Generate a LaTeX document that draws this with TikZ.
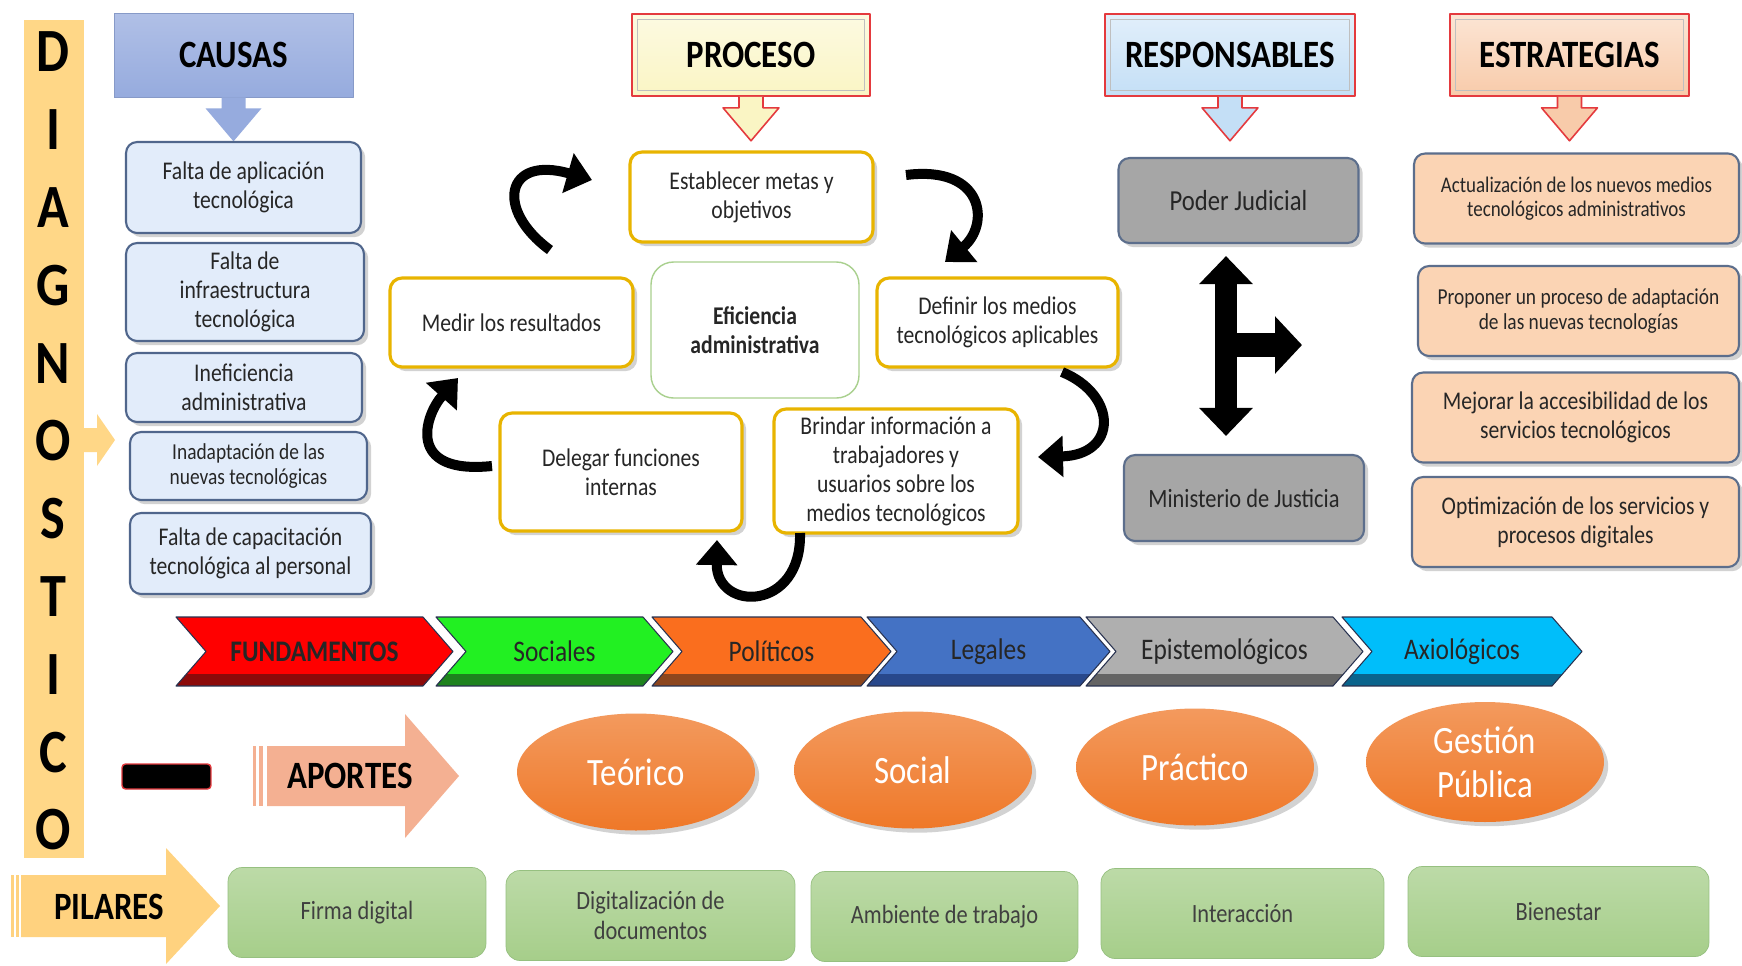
\documentclass[tikz,border=0pt]{standalone}
\usepackage{fontspec}
\setmainfont{Carlito}[FakeStretch=0.85]
\usepackage{xcolor}
\definecolor{diagyellow}{RGB}{255,215,135}
\definecolor{causeblue}{RGB}{150,171,222}
\definecolor{causefill}{RGB}{226,236,250}
\definecolor{causeline}{RGB}{80,102,140}
\definecolor{headred}{RGB}{228,58,62}
\definecolor{procyellow}{RGB}{250,245,196}
\definecolor{respblue}{RGB}{196,223,246}
\definecolor{estrpeach}{RGB}{248,203,170}
\definecolor{goldline}{RGB}{232,180,0}
\definecolor{effgreen}{RGB}{169,208,142}
\definecolor{judgrey}{RGB}{166,166,166}
\definecolor{slateline}{RGB}{92,110,140}
\definecolor{estrfill}{RGB}{251,212,180}
\definecolor{aportesal}{RGB}{244,176,146}
\definecolor{ellorange}{RGB}{239,120,40}
\definecolor{pilgreen}{RGB}{166,206,138}
\definecolor{pilline}{RGB}{150,192,128}
\definecolor{pilyellow}{RGB}{255,210,127}
\definecolor{chline}{RGB}{40,50,80}
\definecolor{chred}{RGB}{255,0,0}
\definecolor{chredd}{RGB}{140,10,10}
\definecolor{chgreen}{RGB}{34,240,34}
\definecolor{chgreend}{RGB}{30,130,30}
\definecolor{chorange}{RGB}{250,110,30}
\definecolor{choranged}{RGB}{140,70,30}
\definecolor{chblue}{RGB}{68,114,196}
\definecolor{chblued}{RGB}{40,72,140}
\definecolor{chgrey}{RGB}{175,175,175}
\definecolor{chgreyd}{RGB}{100,100,100}
\definecolor{chcyan}{RGB}{0,190,250}
\definecolor{chcyand}{RGB}{10,100,140}
\usepackage{tikz}
\usetikzlibrary{calc,arrows.meta,shapes.geometric,shadows}
\newcommand{\HeadArrow}[2][]{
\filldraw[#1] ($(#2.south)+(-12,0)$) -- ++(0,11) -- ++(-16,0) -- ($(#2.south)+(0,44)$)
-- ($(#2.south)+(28,11)$) -- ++(-16,0) -- ++(0,-11);}

\begin{document}
\begin{tikzpicture}[x=0.02cm,y=-0.02cm,line join=round,text=black!85]
	\tikzstyle{titulo}=[draw=headred,line width=0.9pt,minimum height=1.64cm,font=\fontsize{22}{24}\selectfont\bfseries,text=black];
	\tikzstyle{causa}=[draw=causeline,fill=causefill,line width=1.2pt,rounded corners=0.22cm,align=center,inner sep=2pt,font=\fontsize{14.5}{16.5}\selectfont,drop shadow={opacity=0.35}];
	\tikzstyle{paso}=[draw=goldline,fill=white,line width=1.8pt,rounded corners=0.24cm,align=center,inner sep=2pt,font=\fontsize{14.5}{16.5}\selectfont,drop shadow={opacity=0.35}];
	\tikzstyle{resp}=[draw=slateline,fill=judgrey,line width=1.2pt,rounded corners=0.22cm,minimum width=4.8cm,minimum height=1.7cm,drop shadow={opacity=0.35}];
	\tikzstyle{estr}=[draw=slateline,fill=estrfill,line width=1.2pt,rounded corners=0.22cm,align=center,inner sep=2pt,minimum height=1.8cm,drop shadow={opacity=0.35}];
	\tikzstyle{aporte}=[ellipse,top color=ellorange!75!white,bottom color=ellorange,text=white,inner sep=0pt,minimum width=4.76cm,minimum height=2.34cm,font=\fontsize{22}{25}\selectfont,align=center,drop shadow={opacity=0.35}];
	\tikzstyle{pilar}=[draw=pilline,top color=pilgreen!75!white,bottom color=pilgreen,rounded corners=0.28cm,align=center,text=black!75,font=\fontsize{15}{17}\selectfont,minimum height=1.8cm];
	\tikzstyle{ciclo}=[line width=0.2cm,-{Triangle[width=0.8cm,length=0.5cm]}];
	\tikzstyle{doble}=[line width=0.44cm,{Triangle[width=1.04cm,length=0.56cm]}-{Triangle[width=1.04cm,length=0.56cm]}];
	\tikzstyle{ramal}=[line width=0.48cm,-{Triangle[width=1.12cm,length=0.54cm]}];
	\useasboundingbox (0,0) rectangle (1742,965);
	\fill[white] (0,0) rectangle (1742,965);
	%% Diagnostico
	\fill[diagyellow] (24,20) rectangle (84,858);
	\fill[diagyellow] (84,428) -- (97,428) -- (97,414) -- (115,440) -- (97,466) -- (97,452) -- (84,452) -- cycle;
	\foreach \ch [count=\k] in {D,I,A,G,N,O,S,T,I,C,O}
		\node[font=\fontsize{35}{35}\selectfont\bfseries,text=black] (diag\k) at (53,{52+(\k-1)*77.8}) {\ch};
	%% Causas
	\node[titulo,draw=causeblue!90!black,line width=0.4pt,top color=causeblue!75!white,bottom color=causeblue,minimum width=4.78cm,minimum height=1.68cm] (causas) at (233.5,55) {CAUSAS};
	\HeadArrow[fill=causeblue,draw=none]{causas}
	\node[causa,minimum width=4.7cm,minimum height=1.82cm] (c1) at (243.5,187.5) {Falta de aplicación\\tecnológica};
	\node[causa,minimum width=4.76cm,minimum height=1.96cm] (c2) at (245,292) {Falta de\\infraestructura\\tecnológica};
	\node[causa,minimum width=4.72cm,minimum height=1.38cm] (c3) at (244,387.5) {Ineficiencia\\administrativa};
	\node[causa,minimum width=4.74cm,minimum height=1.36cm,font=\fontsize{13}{14.5}\selectfont] (c4) at (248.5,466) {Inadaptación de las\\nuevas tecnológicas};
	\node[causa,minimum width=4.82cm,minimum height=1.62cm] (c5) at (250.5,553.5) {Falta de capacitación\\tecnológica al personal};
	%% Proceso
	\node[titulo,top color=procyellow!50!white,bottom color=procyellow,minimum width=4.76cm] (proceso) at (751,55) {PROCESO};
	\HeadArrow[fill=procyellow,draw=headred,line width=0.9pt]{proceso}
	\node[paso,minimum width=4.86cm,minimum height=1.8cm] (metas) at (751.5,197) {Establecer metas y\\objetivos};
	\node[paso,minimum width=4.82cm,minimum height=1.78cm] (medios) at (997.5,322.5) {Definir los medios\\tecnológicos aplicables};
	\node[paso,minimum width=4.88cm,minimum height=2.48cm] (brindar) at (896,471) {Brindar información a\\trabajadores y\\usuarios sobre los\\medios tecnológicos};
	\node[paso,minimum width=4.84cm,minimum height=2.36cm] (delegar) at (621,472) {Delegar funciones\\internas};
	\node[paso,minimum width=4.86cm,minimum height=1.78cm] (medir) at (511.5,322.5) {Medir los resultados};
	\node[draw=effgreen,line width=0.8pt,rounded corners=0.45cm,minimum width=4.16cm,minimum height=2.72cm,align=center,font=\fontsize{14.5}{16.5}\selectfont\bfseries] (eficiencia) at (755,330) {Eficiencia\\administrativa};
	%% ciclo
	\coordinate (a1) at (550,250);  \coordinate (b1) at (592,180);
	\coordinate (a2) at (906,175);  \coordinate (b2) at (945,262);
	\coordinate (a3) at (1062,372); \coordinate (b3) at (1038,457);
	\coordinate (a4) at (800,533);  \coordinate (b4) at (717,540);
	\coordinate (a5) at (492,466);  \coordinate (b5) at (458,378);
	\draw[ciclo] (a1) .. controls (495,210) and (505,155) .. (b1);
	\draw[ciclo] (a2) .. controls (985,165) and (990,225) .. (b2);
	\draw[ciclo] (a3) .. controls (1118,395) and (1118,455) .. (b3);
	\draw[ciclo] (a4) .. controls (802,612) and (716,612) .. (b4);
	\draw[ciclo] (a5) .. controls (405,475) and (425,415) .. (b5);
	%% Responsables
	\node[titulo,top color=respblue!50!white,bottom color=respblue,minimum width=5cm] (responsables) at (1230,55) {RESPONSABLES};
	\HeadArrow[fill=respblue,draw=headred,line width=0.9pt]{responsables}
	\node[resp,font=\fontsize{16.5}{18}\selectfont] (judicial) at (1238.5,200.5) {Poder Judicial};
	\node[resp,minimum height=1.72cm,font=\fontsize{15}{17}\selectfont] (ministerio) at (1244,498) {Ministerio de Justicia};
	\coordinate (cruce) at (1226,345);
	\draw[doble] ($(judicial.south)+(-12.5,12)$) -- ($(ministerio.north)+(-18,-18)$);
	\draw[ramal] (cruce) -- ++(76,0);
	%% Estrategias
	\node[titulo,top color=estrpeach!50!white,bottom color=estrpeach,minimum width=4.78cm] (estrategias) at (1569.5,55) {ESTRATEGIAS};
	\HeadArrow[fill=estrpeach,draw=headred,line width=0.9pt]{estrategias}
	\foreach \h in {proceso,responsables,estrategias}
		\draw[black!25,line width=0.4pt] ($(\h.north west)+(6,6)$) rectangle ($(\h.south east)+(-6,-6)$);
	\node[estr,minimum width=6.5cm,font=\fontsize{12.7}{14}\selectfont] (e1) at (1576.5,198.5) {Actualización de los nuevos medios\\tecnológicos administrativos};
	\node[estr,minimum width=6.42cm,font=\fontsize{13}{14.5}\selectfont] (e2) at (1578.5,311) {Proponer un proceso de adaptación\\de las nuevas tecnologías};
	\node[estr,minimum width=6.54cm,font=\fontsize{14.5}{16.5}\selectfont] (e3) at (1575.5,417.5) {Mejorar la accesibilidad de los\\servicios tecnológicos};
	\node[estr,minimum width=6.54cm,font=\fontsize{14.5}{16.5}\selectfont] (e4) at (1575.5,522) {Optimización de los servicios y\\procesos digitales};
	%% Fundamentos
	\foreach \xa/\xb/\col/\dk/\nm/\txt in {176/423/chred/chredd/fund/{\bfseries FUNDAMENTOS},
		436/643/chgreen/chgreend/soc/Sociales,652/861/chorange/choranged/pol/Políticos,
		867/1080/chblue/chblued/leg/Legales,1086/1333/chgrey/chgreyd/epi/Epistemológicos,
		1342/1552/chcyan/chcyand/axi/Axiológicos}{
		\begin{scope}
			\clip (\xa,617) -- (\xb,617) -- (\xb+30,651.5) -- (\xb,686) -- (\xa,686) -- (\xa+30,651.5) -- cycle;
			\fill[\col] (\xa,617) rectangle (\xb+30,686);
			\fill[\dk] (\xa,674) rectangle (\xb+30,686);
		\end{scope}
		\draw[chline,line width=0.6pt] (\xa,617) -- (\xb,617) -- (\xb+30,651.5) -- (\xb,686) -- (\xa,686) -- (\xa+30,651.5) -- cycle;
		\node[font=\fontsize{17}{19}\selectfont] (\nm) at ({(\xa+\xb)/2+15},651.5) {\txt};
	}
	%% Aportes
	\node[draw=headred,fill=black,line width=0.8pt,rounded corners=2pt,minimum width=1.78cm,minimum height=0.5cm,inner sep=0pt] (guion) at (166.5,776.5) {};
	\fill[aportesal] (253,746) rectangle (256,806);
	\fill[aportesal] (259,746) rectangle (263,806);
	\fill[aportesal] (267,746) -- (405,746) -- (405,714) -- (459,776) -- (405,838) -- (405,806) -- (267,806) -- cycle;
	\node[font=\fontsize{22}{24}\selectfont\bfseries,text=black] (aportes) at (350,776) {APORTES};
	\node[aporte] (teorico) at (636,772) {Teórico};
	\node[aporte] (social) at (913,770) {Social};
	\node[aporte] (practico) at (1195,767) {Práctico};
	\node[aporte,minimum height=2.4cm] (gestion) at (1485,762) {Gestión\\Pública};
	%% Pilares
	\fill[pilyellow] (11,875) rectangle (14,937);
	\fill[pilyellow] (16,875) rectangle (19,937);
	\fill[pilyellow] (21,875) -- (166,875) -- (166,848) -- (220,906) -- (166,964) -- (166,937) -- (21,937) -- cycle;
	\node[font=\fontsize{22}{24}\selectfont\bfseries,text=black] (pilares) at (109,907) {PILARES};
	\node[pilar,minimum width=5.16cm] (firma) at (357,912.5) {Firma digital};
	\node[pilar,minimum width=5.78cm] (digital) at (650.5,915.5) {Digitalización de\\documentos};
	\node[pilar,minimum width=5.34cm] (ambiente) at (944.5,916.5) {Ambiente de trabajo};
	\node[pilar,minimum width=5.66cm] (interaccion) at (1242.5,913.5) {Interacción};
	\node[pilar,minimum width=6.02cm] (bienestar) at (1558.5,911.5) {Bienestar};
\end{tikzpicture}
\end{document}
